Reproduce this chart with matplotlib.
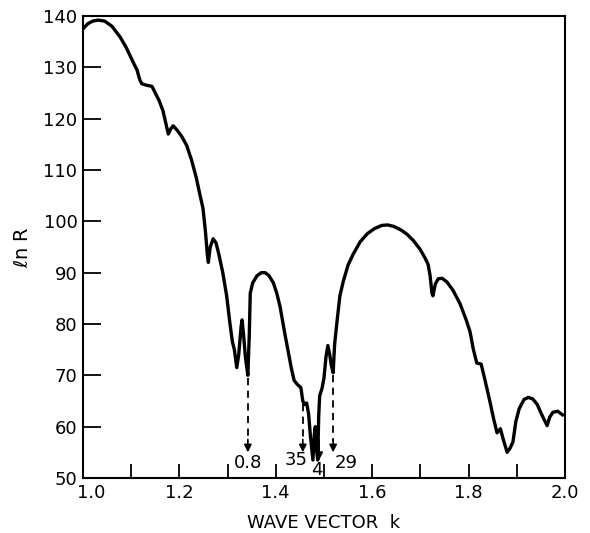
import numpy as np
import matplotlib
matplotlib.use("Agg")
import matplotlib.pyplot as plt
import matplotlib.transforms as mtransforms

# curve: wave vector k vs ln R
k = [1.000, 1.010, 1.020, 1.031, 1.045, 1.060, 1.077, 1.090, 1.104, 1.112,
     1.118, 1.122, 1.132, 1.143, 1.150, 1.158, 1.166, 1.172, 1.177, 1.182,
     1.187, 1.195, 1.205, 1.215, 1.225, 1.235, 1.243, 1.249, 1.254, 1.258,
     1.260, 1.264, 1.270, 1.276, 1.282, 1.290, 1.298, 1.305, 1.310, 1.314,
     1.319, 1.323, 1.328, 1.330, 1.333, 1.337, 1.342, 1.345, 1.347, 1.352,
     1.361, 1.370, 1.378, 1.386, 1.395, 1.402, 1.409, 1.418, 1.425, 1.432,
     1.438, 1.445, 1.452, 1.456, 1.460, 1.464, 1.468, 1.472, 1.477, 1.480,
     1.482, 1.484, 1.487, 1.489, 1.491, 1.496, 1.500, 1.504, 1.508, 1.512,
     1.515, 1.519, 1.522, 1.527, 1.533, 1.540, 1.550, 1.560, 1.575, 1.590,
     1.605, 1.620, 1.632, 1.645, 1.660, 1.672, 1.685, 1.699, 1.710, 1.716,
     1.720, 1.724, 1.726, 1.731, 1.737, 1.745, 1.755, 1.768, 1.782, 1.795,
     1.803, 1.810, 1.817, 1.826, 1.833, 1.844, 1.852, 1.859, 1.866, 1.872,
     1.880, 1.886, 1.892, 1.898, 1.905, 1.915, 1.924, 1.933, 1.942, 1.952,
     1.963, 1.968, 1.975, 1.985, 1.995]
lnR = [137.5, 138.5, 139.0, 139.2, 139.0, 138.0, 135.9, 133.8, 131.0, 129.5,
       127.5, 126.8, 126.5, 126.3, 125.0, 123.5, 121.5, 119.0, 117.0, 118.0,
       118.6, 117.8, 116.5, 114.8, 112.0, 108.5, 105.0, 102.5, 98.0, 93.5,
       92.0, 95.0, 96.6, 95.8, 93.5, 90.0, 85.5, 80.0, 76.5, 75.0,
       71.5, 74.0, 79.5, 80.8, 78.0, 73.5, 70.0, 78.0, 86.0, 88.0,
       89.4, 90.0, 90.0, 89.4, 88.0, 86.0, 83.3, 78.5, 75.0, 71.5,
       69.0, 68.2, 67.6, 65.0, 64.3, 64.6, 62.5, 58.0, 53.5, 58.5,
       60.0, 56.0, 53.5, 62.0, 66.0, 67.5, 69.5, 73.5, 75.8, 74.0,
       72.0, 70.5, 76.0, 80.5, 85.5, 88.3, 91.5, 93.5, 96.0, 97.6,
       98.6, 99.2, 99.3, 99.0, 98.3, 97.5, 96.3, 94.6, 92.8, 91.6,
       89.5, 86.0, 85.5, 87.8, 88.8, 88.9, 88.2, 86.5, 84.0, 80.8,
       78.5, 75.0, 72.4, 72.2, 69.5, 65.0, 61.5, 58.8, 59.6, 57.5,
       55.0, 55.8, 57.0, 61.0, 63.5, 65.3, 65.7, 65.4, 64.4, 62.3,
       60.2, 61.8, 62.8, 63.0, 62.3]

# dashed arrows marking the dips
arrow_k = [1.342, 1.456, 1.490, 1.519]
arrow_top = [69.5, 64.5, 60.0, 70.0]
arrow_tip = [55.0, 55.0, 53.5, 55.0]
arrow_labels = ["0.8", "35", "4", "29"]
label_k = [1.342, 1.442, 1.485, 1.546]
label_y = [52.9, 53.6, 51.6, 53.0]

plt.rcParams['font.family'] = ['DejaVu Sans']

fig = plt.figure(figsize=(5.9, 5.33), dpi=100)
ax = fig.add_axes([0.1407, 0.1032, 0.8169, 0.8668])

ax.plot(k, lnR, color='black', lw=2.4, solid_joinstyle='round')

for x, top, tip in zip(arrow_k, arrow_top, arrow_tip):
    ax.plot([x, x], [top, tip + 2.0], color='black', lw=1.3, ls=(0, (4, 3)))
    ax.annotate('', xy=(x, tip), xytext=(x, tip + 2.5),
                arrowprops=dict(arrowstyle='-|>', color='black', lw=1.2,
                                mutation_scale=11, shrinkA=0, shrinkB=0))

for x, y, s in zip(label_k, label_y, arrow_labels):
    ax.text(x, y, s, ha='center', va='center', fontsize=13)

ax.set_xlim(1.0, 2.0)
ax.set_ylim(50, 140)
ax.set_xticks(np.arange(1.0, 2.01, 0.1))
ax.set_xticklabels(["1.0", "", "1.2", "", "1.4", "", "1.6", "", "1.8", "", "2.0"])
ax.set_yticks(np.arange(50, 141, 10))
ax.tick_params(direction='in', length=10, width=1.3, labelsize=13)
ax.tick_params(axis='x', pad=4)
ax.tick_params(axis='y', length=13, pad=4)
for sp in ax.spines.values():
    sp.set_linewidth(1.5)

# nudge "1.0" right so it clears the "50"
first = ax.get_xticklabels()[0]
first.set_transform(first.get_transform() +
                    mtransforms.ScaledTranslation(6 / 72, 0, fig.dpi_scale_trans))

ax.set_xlabel("WAVE VECTOR  k", fontsize=13, labelpad=9)
ax.set_ylabel(r"$\ell$n R", fontsize=14, labelpad=8)

fig.savefig("out.png", dpi=100)
